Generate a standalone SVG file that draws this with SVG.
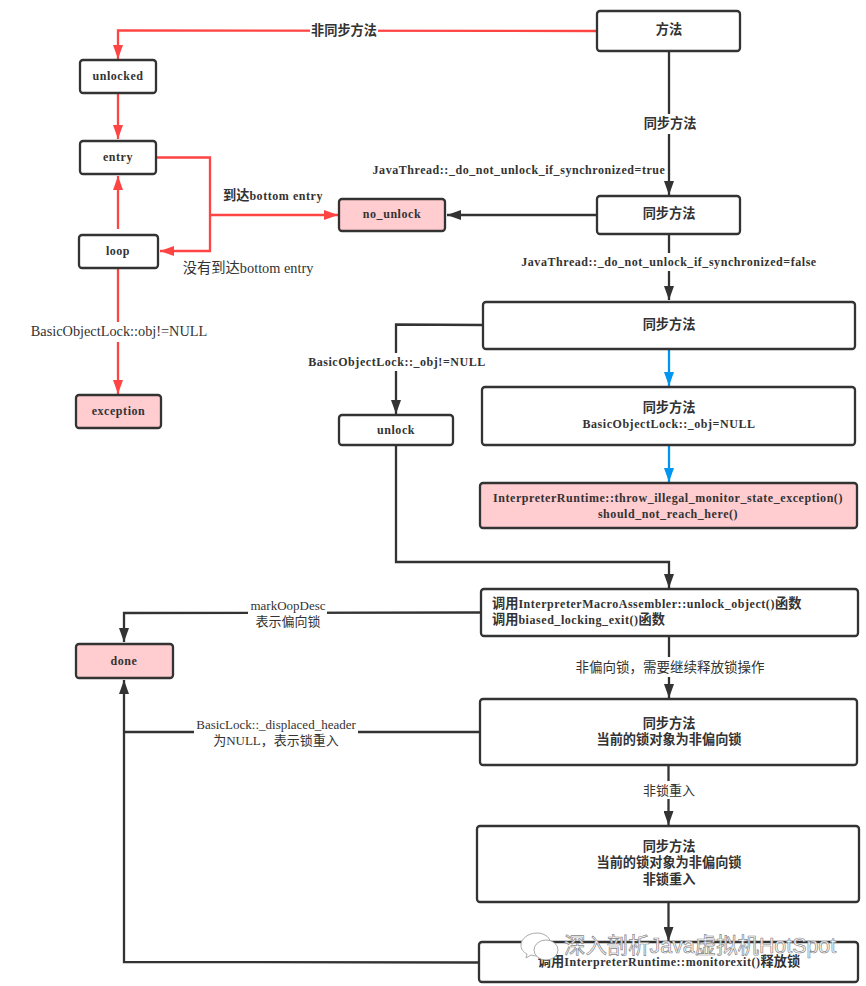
<svg xmlns="http://www.w3.org/2000/svg" width="866" height="986" viewBox="0 0 866 986">
<style>
text{font-family:"Liberation Serif","Noto Sans CJK SC",serif;fill:#333;text-anchor:middle}
.b{font-weight:700;font-size:12px;letter-spacing:.55px}
.r{font-size:14.300px}
.c{font-weight:700;font-size:13.200px;letter-spacing:0}
.n{fill:#fff;stroke:#333;stroke-width:2.300}
.p{fill:#ffccd0;stroke:#333;stroke-width:2.300}
.k,.d,.u,.l{fill:none;stroke-width:2.300}
.k{stroke:#333;marker-end:url(#ak)}
.l{stroke:#333}
.d{stroke:#ff4444;marker-end:url(#ad)}
.u{stroke:#0095ee;marker-end:url(#au)}
.w{fill:#fff}
.s{font-size:13px}
.wm{font-family:"Liberation Sans","Noto Sans CJK SC",sans-serif;font-size:21.400px;fill:#fff;stroke:#888;stroke-width:.7;text-anchor:start}
</style>
<defs>
<marker id="ak" markerUnits="userSpaceOnUse" viewBox="0 0 14 10" refX="14" refY="5" markerWidth="14" markerHeight="10" orient="auto"><path d="M0 0L14 5L0 10z" fill="#333"/></marker>
<marker id="ad" markerUnits="userSpaceOnUse" viewBox="0 0 14 10" refX="14" refY="5" markerWidth="14" markerHeight="10" orient="auto"><path d="M0 0L14 5L0 10z" fill="#ff4444"/></marker>
<marker id="au" markerUnits="userSpaceOnUse" viewBox="0 0 14 10" refX="14" refY="5" markerWidth="14" markerHeight="10" orient="auto"><path d="M0 0L14 5L0 10z" fill="#0095ee"/></marker>
</defs>
<rect width="866" height="986" fill="#fff"/>
<g id="connectors">
<path class="d" d="M597 31L118 30.500V59"/>
<path class="d" d="M118 94V139"/>
<path class="d" d="M118 229V176"/>
<path class="d" d="M157 157.500H210V251H160"/>
<path class="d" d="M210 215H338"/>
<path class="d" d="M118 268V394"/>
<path class="k" d="M669 51V195"/>
<path class="k" d="M597 215H447"/>
<path class="k" d="M669 235V300"/>
<path class="k" d="M483 325L396 324.500V414"/>
<path class="u" d="M669 349V386"/>
<path class="u" d="M669 445V482"/>
<path class="k" d="M396 445V562H669V588"/>
<path class="k" d="M481 612.500L124 613V642"/>
<path class="k" d="M669 636V698"/>
<path class="k" d="M668.500 765V825"/>
<path class="k" d="M668.500 902V941"/>
<path class="l" d="M480 732H124"/>
<path class="k" d="M479 962.500L124 962V680"/>
</g>
<g id="connector-labels">
<rect class="w" x="310" y="20" width="68" height="20"/><text class="c" x="344" y="35">非同步方法</text>
<rect class="w" x="643" y="114" width="54" height="20"/><text class="c" x="670" y="128">同步方法</text>
<text class="b" x="519" y="174">JavaThread::_do_not_unlock_if_synchronized=true</text>
<rect class="w" x="520" y="253" width="298" height="18"/><text class="b" x="669" y="266">JavaThread::_do_not_unlock_if_synchronized=false</text>
<text class="b" x="273" y="200"><tspan class="c">到达</tspan>bottom entry</text>
<text class="r" x="248" y="273">没有到达bottom entry</text>
<rect class="w" x="30" y="322" width="178" height="20"/><text class="r" x="119" y="336">BasicObjectLock::obj!=NULL</text>
<rect class="w" x="307" y="353" width="181" height="18"/><text class="b" x="397" y="366">BasicObjectLock::_obj!=NULL</text>
<rect class="w" x="248" y="600" width="79" height="30"/><text class="s" x="288" y="610">markOopDesc</text><text class="s" x="288" y="626">表示偏向锁</text>
<rect class="w" x="194" y="718" width="164" height="30"/><text class="s" x="276" y="729">BasicLock::_displaced_header</text><text class="s" x="276" y="745">为NULL，表示锁重入</text>
<rect class="w" x="576" y="657" width="188" height="20"/><text x="670" y="672" style="font-size:13.500px">非偏向锁，需要继续释放锁操作</text>
<rect class="w" x="642" y="781" width="54" height="18"/><text class="s" x="669" y="795">非锁重入</text>
</g>
<g id="n-method"><rect class="n" x="597" y="11" width="143" height="40" rx="3"/><text class="c" x="669" y="34">方法</text></g>
<g id="n-unlocked"><rect class="n" x="80" y="60" width="76" height="33" rx="3"/><text class="b" x="118" y="80">unlocked</text></g>
<g id="n-entry"><rect class="n" x="80" y="141" width="76" height="33" rx="3"/><text class="b" x="118" y="161">entry</text></g>
<g id="n-loop"><rect class="n" x="79" y="235" width="79" height="33" rx="3"/><text class="b" x="118" y="255">loop</text></g>
<g id="n-exception"><rect class="p" x="76" y="395" width="85" height="33" rx="3"/><text class="b" x="118.500" y="415">exception</text></g>
<g id="n-no-unlock"><rect class="p" x="339" y="199" width="106" height="32" rx="3"/><text class="b" x="392" y="218">no_unlock</text></g>
<g id="n-sync2"><rect class="n" x="597" y="196" width="143" height="38" rx="3"/><text class="c" x="669" y="218">同步方法</text></g>
<g id="n-sync3"><rect class="n" x="483" y="302" width="372" height="47" rx="3"/><text class="c" x="669" y="329">同步方法</text></g>
<g id="n-sync4"><rect class="n" x="482" y="387" width="373" height="58" rx="3"/><text class="c" x="669" y="412">同步方法</text><text class="b" x="669" y="428">BasicObjectLock::_obj=NULL</text></g>
<g id="n-throw"><rect class="p" x="480" y="483" width="377" height="45" rx="3"/><text class="b" x="668" y="502">InterpreterRuntime::throw_illegal_monitor_state_exception()</text><text class="b" x="668" y="518">should_not_reach_here()</text></g>
<g id="n-unlock"><rect class="n" x="339" y="415" width="114" height="30" rx="3"/><text class="b" x="396" y="434">unlock</text></g>
<g id="n-call"><rect class="n" x="481" y="589" width="377" height="47" rx="3"/><text class="b" x="492" y="608" style="text-anchor:start"><tspan class="c">调用</tspan>InterpreterMacroAssembler::unlock_object()<tspan class="c">函数</tspan></text><text class="b" x="492" y="624" style="text-anchor:start"><tspan class="c">调用</tspan>biased_locking_exit()<tspan class="c">函数</tspan></text></g>
<g id="n-done"><rect class="p" x="76" y="644" width="97" height="34" rx="3"/><text class="b" x="124" y="665">done</text></g>
<g id="n-sync6"><rect class="n" x="480" y="699" width="377" height="66" rx="3"/><text class="c" x="669" y="728">同步方法</text><text class="c" x="669" y="744">当前的锁对象为非偏向锁</text></g>
<g id="n-sync7"><rect class="n" x="477" y="826" width="382" height="76" rx="3"/><text class="c" x="669" y="851">同步方法</text><text class="c" x="669" y="867">当前的锁对象为非偏向锁</text><text class="c" x="669" y="884">非锁重入</text></g>
<g id="n-monitorexit"><rect class="n" x="479" y="942" width="379" height="40" rx="3"/><text class="b" x="669" y="966"><tspan class="c">调用</tspan>InterpreterRuntime::monitorexit()<tspan class="c">释放锁</tspan></text></g>
<g id="watermark">
<path d="M537 933c-9 0-16 6-16 12 0 4 2 7 6 9l-1 4 5-3c2 .500 4 1 6 1 8 0 14-6 14-11 0-7-6-12-14-12z" fill="#fff" stroke="#aaa"/>
<ellipse cx="546" cy="950" rx="12" ry="10" fill="#fff" stroke="#aaa"/>
<text class="wm" x="564" y="953">深入剖析Java虚拟机HotSpot</text>
</g>
</svg>
